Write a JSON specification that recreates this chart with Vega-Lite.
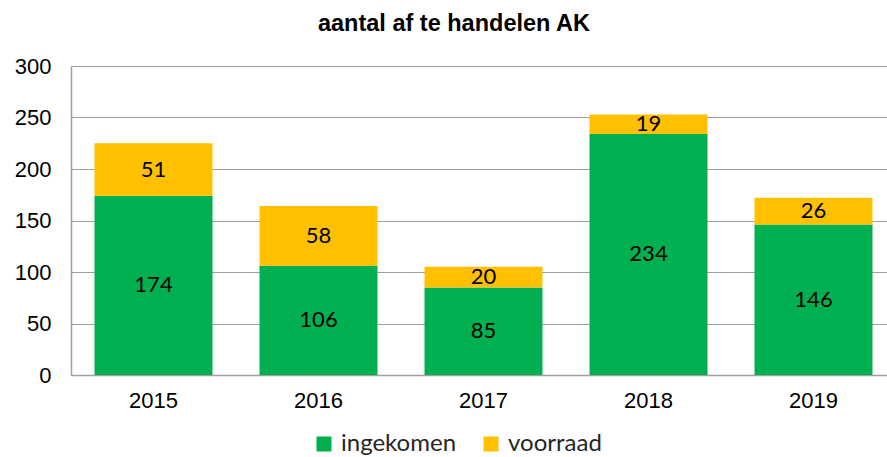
{
  "$schema": "https://vega.github.io/schema/vega-lite/v6.json",
  "width": 816,
  "height": 309,
  "autosize": {"type": "none"},
  "padding": {"left": 71, "top": 66, "right": 0, "bottom": 82},
  "background": "white",
  "title": {
    "text": "aantal af te handelen AK",
    "font": "Liberation Sans",
    "fontSize": 23.5,
    "fontWeight": "bold",
    "color": "#000000",
    "anchor": "middle",
    "frame": "group",
    "dx": -25,
    "baseline": "alphabetic",
    "offset": 1
  },
  "data": {
    "values": [
      {"year": "2015", "series": "ingekomen", "value": 174},
      {"year": "2015", "series": "voorraad", "value": 51},
      {"year": "2016", "series": "ingekomen", "value": 106},
      {"year": "2016", "series": "voorraad", "value": 58},
      {"year": "2017", "series": "ingekomen", "value": 85},
      {"year": "2017", "series": "voorraad", "value": 20},
      {"year": "2018", "series": "ingekomen", "value": 234},
      {"year": "2018", "series": "voorraad", "value": 19},
      {"year": "2019", "series": "ingekomen", "value": 146},
      {"year": "2019", "series": "voorraad", "value": 26}
    ]
  },
  "transform": [
    {"stack": "value", "groupby": ["year"], "sort": [{"field": "series", "order": "ascending"}], "as": ["v0", "v1"]},
    {"calculate": "(datum.v0 + datum.v1) / 2", "as": "mid"}
  ],
  "encoding": {
    "x": {
      "field": "year",
      "type": "nominal",
      "scale": {"range": [0, 825], "paddingInner": 0.285, "paddingOuter": 0.1425},
      "axis": {
        "title": null,
        "labelAngle": 0,
        "labelFont": "Liberation Sans",
        "labelFontSize": 22,
        "labelColor": "#000000",
        "labelBaseline": "top",
        "labelPadding": 15,
        "ticks": false,
        "domainColor": "#A0A0A0",
        "domainWidth": 1.5
      }
    }
  },
  "layer": [
    {
      "mark": {"type": "bar"},
      "encoding": {
        "y": {
          "field": "v0",
          "type": "quantitative",
          "scale": {"domain": [0, 300], "nice": false},
          "axis": {
            "title": null,
            "values": [0, 50, 100, 150, 200, 250, 300],
            "labelFont": "Liberation Sans",
            "labelFontSize": 22,
            "labelColor": "#000000",
            "labelPadding": 20,
            "ticks": false,
            "domainColor": "#A0A0A0",
            "domainWidth": 1.5,
            "grid": true,
            "gridColor": "#A0A0A0",
            "gridWidth": 1
          }
        },
        "y2": {"field": "v1"},
        "color": {
          "field": "series",
          "type": "nominal",
          "scale": {"domain": ["ingekomen", "voorraad"], "range": ["#00B050", "#FFC000"]},
          "legend": {
            "title": null,
            "orient": "none",
            "direction": "horizontal",
            "legendX": 241,
            "legendY": 366,
            "symbolType": "square",
            "symbolSize": 225,
            "symbolStrokeWidth": 0,
            "labelFont": "Lato",
            "labelFontSize": 24,
            "labelColor": "#262626",
            "labelOffset": 5,
            "columnPadding": 22
          }
        }
      }
    },
    {
      "mark": {"type": "text", "font": "Lato", "fontSize": 22, "color": "#000000", "baseline": "middle", "align": "center"},
      "encoding": {
        "y": {"field": "mid", "type": "quantitative"},
        "text": {"field": "value", "type": "quantitative"}
      }
    }
  ],
  "config": {
    "view": {"stroke": null}
  }
}
